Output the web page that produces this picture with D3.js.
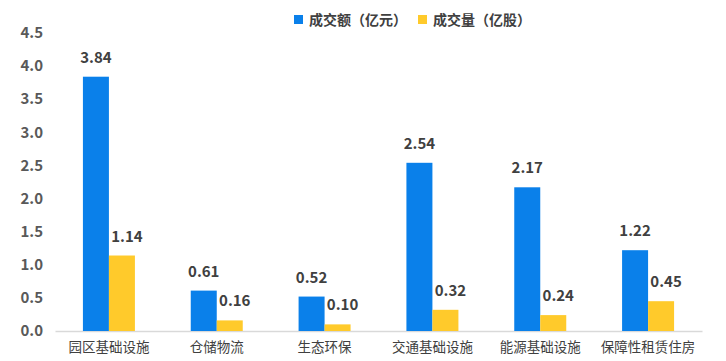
<!DOCTYPE html>
<html><head><meta charset="utf-8">
<script src="https://cdn.jsdelivr.net/npm/d3@7"></script>
<style>body{margin:0;background:#fff}svg{display:block}</style>
</head><body>
<svg id="c" width="726" height="361"></svg>
<script>
const categories = ["园区基础设施","仓储物流","生态环保","交通基础设施","能源基础设施","保障性租赁住房"];
const amount = [3.84,0.61,0.52,2.54,2.17,1.22];
const volume = [1.14,0.16,0.10,0.32,0.24,0.45];
const seriesNames = ["成交额（亿元）","成交量（亿股）"];
const yTicks = [0,0.5,1,1.5,2,2.5,3,3.5,4,4.5];
const colors = ["#0A80EA","#FFCA2B"];
const font = "'Noto Sans CJK SC','Microsoft YaHei',sans-serif";

const svg = d3.select("#c");
const x = d3.scaleBand().domain(categories).range([55,702]);
const y = d3.scaleLinear().domain([0,4.5]).range([331,33]);
const bw = 26;

// y labels
svg.append("g").selectAll("text").data(yTicks).join("text")
  .attr("x",43).attr("y",d=>y(d)).attr("dy","0.35em")
  .attr("text-anchor","end").attr("font-family",font).attr("font-weight","bold")
  .attr("font-size",15).attr("fill","#595959").text(d=>d.toFixed(1));

// axis line
const xa = svg.append("g").attr("transform","translate(0,331)")
  .call(d3.axisBottom(x).tickSize(0).tickPadding(11));
xa.select(".domain").attr("stroke","#D9D9D9").attr("stroke-width",1.3);
xa.selectAll("text").attr("font-family",font).attr("font-size",13.5).attr("fill","#404040");

const data = [amount, volume];
data.forEach((vals,si)=>{
  const g = svg.append("g");
  g.selectAll("rect").data(vals).join("rect")
    .attr("x",(d,i)=>x(categories[i])+x.bandwidth()/2 - bw + si*bw)
    .attr("y",d=>y(d)).attr("width",bw).attr("height",d=>y(0)-y(d))
    .attr("fill",colors[si]);
  g.selectAll("text").data(vals).join("text")
    .attr("x",(d,i)=>x(categories[i])+x.bandwidth()/2 - bw/2 + si*bw + si*5)
    .attr("y",d=>y(d)-14)
    .attr("text-anchor","middle").attr("font-family",font).attr("font-weight","bold")
    .attr("font-size",15).attr("fill","#404040").text(d=>d.toFixed(2));
});

// legend
const leg = [{x:294},{x:418}];
leg.forEach((l,i)=>{
  svg.append("rect").attr("x",l.x).attr("y",15).attr("width",9).attr("height",9).attr("fill",colors[i]);
  svg.append("text").attr("x",l.x+15).attr("y",20).attr("dy","0.35em")
    .attr("font-family",font).attr("font-weight","bold").attr("font-size",14)
    .attr("fill","#404040").text(seriesNames[i]);
});
</script>
</body></html>
